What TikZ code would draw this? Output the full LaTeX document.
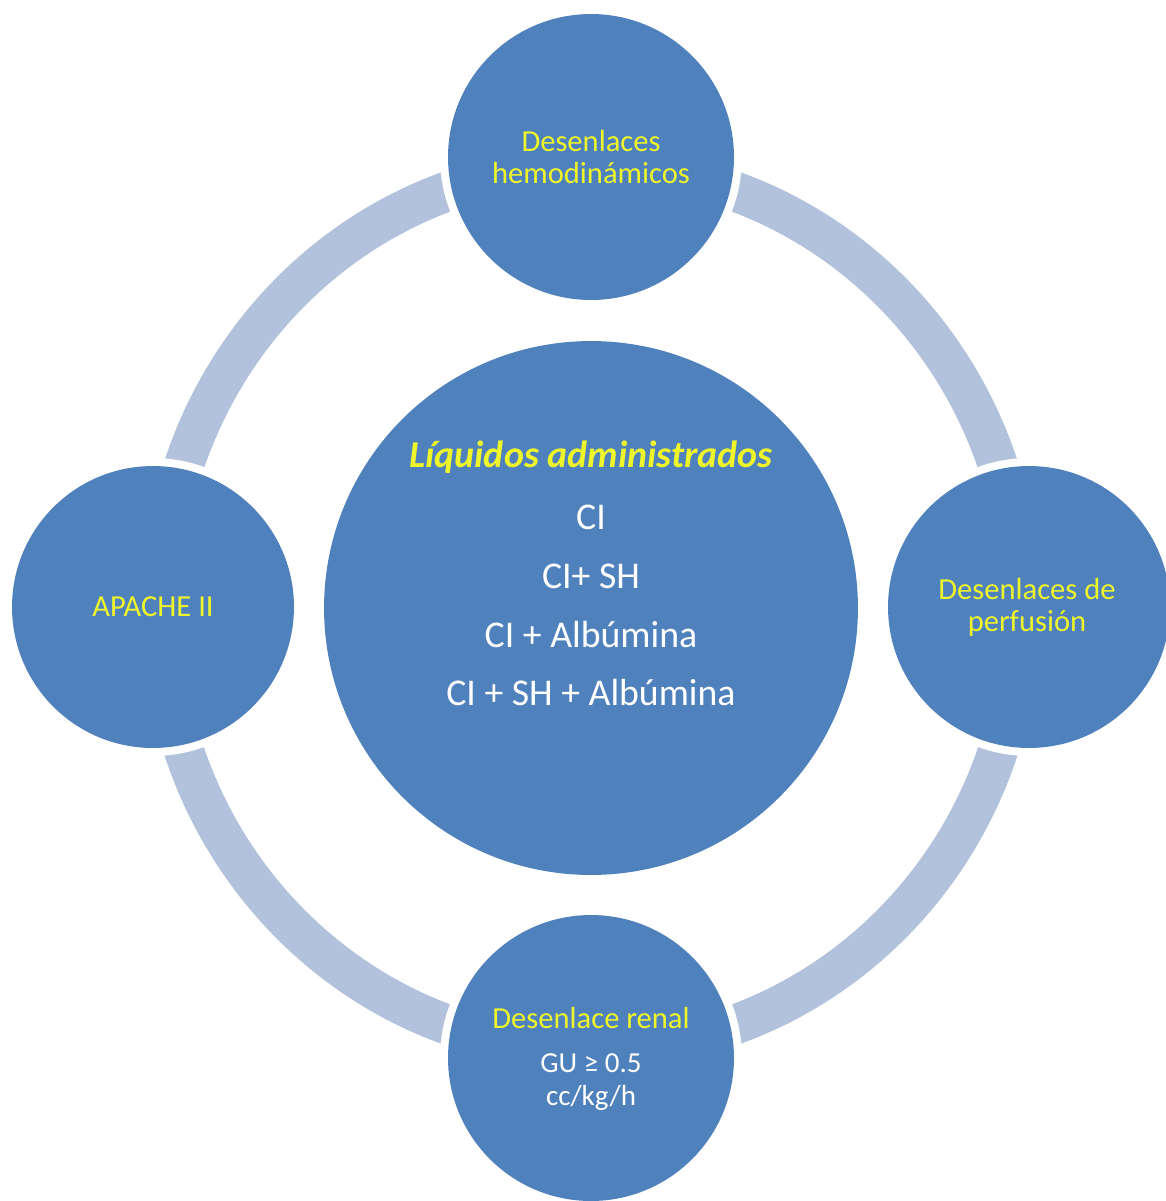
\documentclass[tikz,border=0pt]{standalone}
\usepackage{fontspec}
\setmainfont{Carlito}
\definecolor{cblue}{HTML}{4F81BD}
\definecolor{ringc}{HTML}{B3C2DC}
\definecolor{ytext}{HTML}{EEF52A}
\begin{document}
\begin{tikzpicture}[x=0.02cm,y=-0.02cm,
  bubble/.style={circle,fill=cblue,inner sep=0pt},
  gapdisk/.style={circle,fill=white,inner sep=0pt},
  ytxt/.style={text=ytext,font=\fontsize{17.4}{18.1}\selectfont,align=center,inner sep=0pt},
  wtxt/.style={text=white,align=center,inner sep=0pt},
  ctxt/.style={text=white,font=\fontsize{21.5}{24}\selectfont,inner sep=0pt}]
\useasboundingbox (0,0) rectangle (1166,1201);
% ring
\coordinate (rc) at (591,608);
\draw[ringc, line width=0.8cm] (rc) ellipse [x radius=8.6cm, y radius=8.84cm];
% white gaps around satellites
\node[gapdisk, minimum size=6.04cm] (gt) at (591,157) {};
\node[gapdisk, minimum size=5.96cm] (gl) at (153,607) {};
\node[gapdisk, minimum size=5.96cm] (gr) at (1029,607) {};
\node[gapdisk, minimum size=6.04cm] (gb) at (591,1058) {};
% circles
\node[bubble, minimum size=5.72cm] (top) at (591,157) {};
\node[bubble, minimum size=5.64cm] (left) at (153,607) {};
\node[bubble, minimum size=5.64cm] (right) at (1029,607) {};
\node[bubble, minimum size=5.72cm] (bottom) at (591,1058) {};
\node[bubble, minimum size=10.68cm] (center) at (591,608) {};
% texts
\node[ytxt] (ttop) at (591,157) {Desenlaces\\hemodinámicos};
\node[ytxt] (tright) at (1027,607) {Desenlaces de\\perfusión};
\node[ytxt] (tleft) at (153,607) {APACHE II};
\node[ytxt] (tbot1) at (591,1018) {Desenlace renal};
\node[wtxt, font=\fontsize{16.5}{18.7}\selectfont] (tbot2) at (591,1082) {GU ≥ 0.5\\cc/kg/h};
\node[text=ytext, font=\fontsize{21.6}{24}\selectfont\bfseries\itshape, inner sep=0pt] (thead) at (591,457) {Líquidos administrados};
\node[ctxt] (l1) at (591,517) {CI};
\node[ctxt] (l2) at (591,576) {CI+ SH};
\node[ctxt] (l3) at (591,635) {CI + Albúmina};
\node[ctxt] (l4) at (591,693) {CI + SH + Albúmina};
\end{tikzpicture}
\end{document}
